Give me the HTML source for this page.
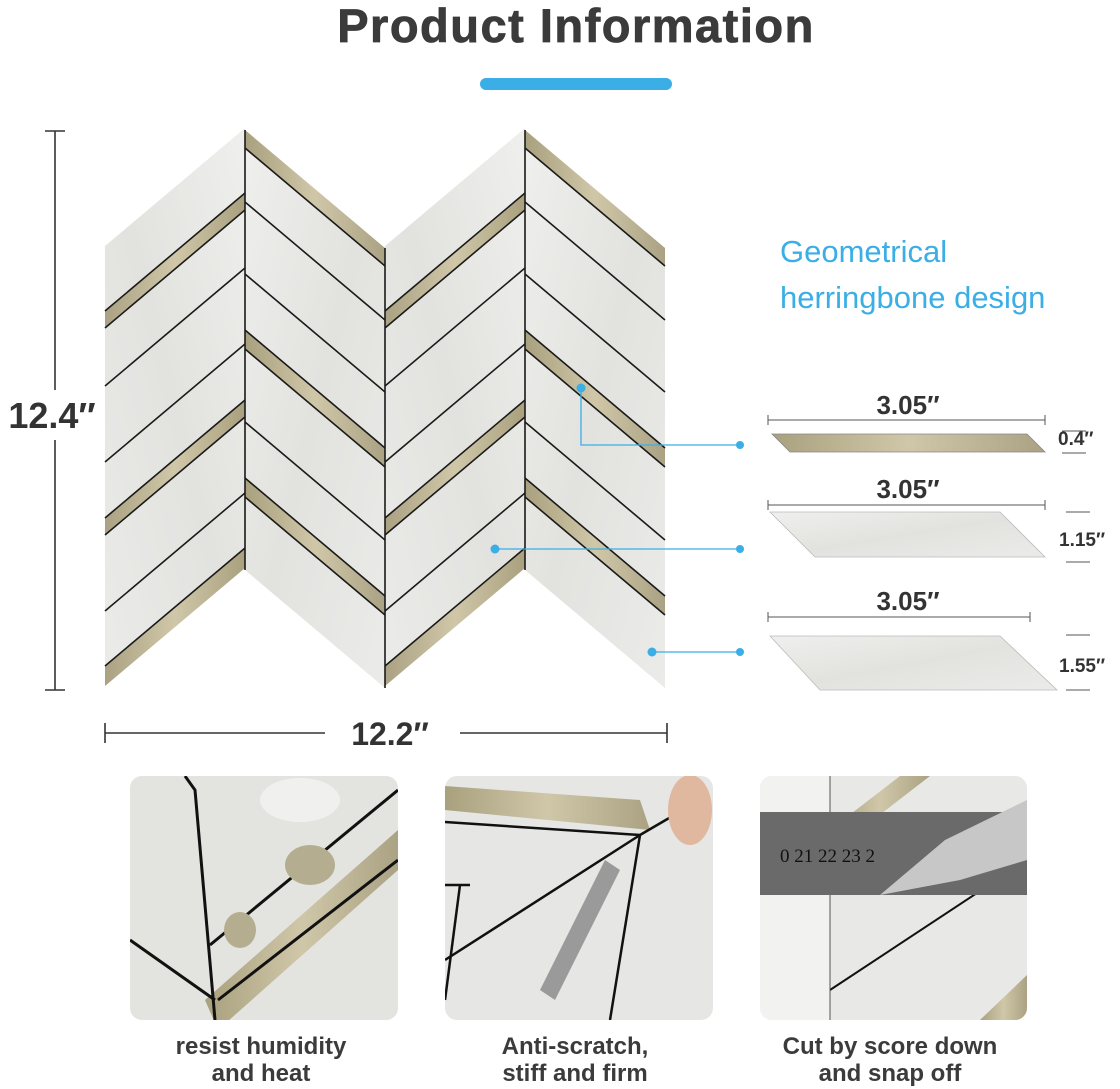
<!DOCTYPE html>
<html><head><meta charset="utf-8"><style>
html,body{margin:0;padding:0;background:#fff;}
body{width:1120px;height:1089px;overflow:hidden;position:relative;font-family:"Liberation Sans",sans-serif;}
</style></head><body>
<svg width="1120" height="1089" viewBox="0 0 1120 1089" xmlns="http://www.w3.org/2000/svg" style="position:absolute;left:0;top:0">
<defs>
<linearGradient id="st" x1="0" y1="0" x2="1" y2="1"><stop offset="0" stop-color="#efefed"/><stop offset="0.5" stop-color="#e2e2df"/><stop offset="1" stop-color="#ebebe9"/></linearGradient>
<linearGradient id="gd" x1="0" y1="0" x2="1" y2="0"><stop offset="0" stop-color="#a9a07e"/><stop offset="0.5" stop-color="#cfc7a8"/><stop offset="1" stop-color="#aaa283"/></linearGradient>
<g id="colA">
<polygon points="0,0 140,118 140,558 0,440" fill="url(#st)"/>
<polygon points="0,0 140,118 140,136 0,18" fill="url(#gd)"/>
<line x1="0" y1="18" x2="140" y2="136" stroke="#1a1a1a" stroke-width="1.6"/>
<line x1="0" y1="72" x2="140" y2="190" stroke="#1a1a1a" stroke-width="1.6"/>
<line x1="0" y1="144" x2="140" y2="262" stroke="#1a1a1a" stroke-width="1.6"/>
<polygon points="0,200 140,318 140,337 0,219" fill="url(#gd)"/>
<line x1="0" y1="200" x2="140" y2="318" stroke="#1a1a1a" stroke-width="1.6"/>
<line x1="0" y1="219" x2="140" y2="337" stroke="#1a1a1a" stroke-width="1.6"/>
<line x1="0" y1="292" x2="140" y2="410" stroke="#1a1a1a" stroke-width="1.6"/>
<polygon points="0,348 140,466 140,485 0,367" fill="url(#gd)"/>
<line x1="0" y1="348" x2="140" y2="466" stroke="#1a1a1a" stroke-width="1.6"/>
<line x1="0" y1="367" x2="140" y2="485" stroke="#1a1a1a" stroke-width="1.6"/>
</g>
<g id="colB">
<polygon points="0,0 140,118 140,558 0,440" fill="url(#st)"/>
<polygon points="0,65 140,183 140,200 0,82" fill="url(#gd)"/>
<line x1="0" y1="65" x2="140" y2="183" stroke="#1a1a1a" stroke-width="1.6"/>
<line x1="0" y1="82" x2="140" y2="200" stroke="#1a1a1a" stroke-width="1.6"/>
<line x1="0" y1="140" x2="140" y2="258" stroke="#1a1a1a" stroke-width="1.6"/>
<line x1="0" y1="216" x2="140" y2="334" stroke="#1a1a1a" stroke-width="1.6"/>
<polygon points="0,272 140,390 140,407 0,289" fill="url(#gd)"/>
<line x1="0" y1="272" x2="140" y2="390" stroke="#1a1a1a" stroke-width="1.6"/>
<line x1="0" y1="289" x2="140" y2="407" stroke="#1a1a1a" stroke-width="1.6"/>
<line x1="0" y1="365" x2="140" y2="483" stroke="#1a1a1a" stroke-width="1.6"/>
<polygon points="0,420 140,538 140,558 0,440" fill="url(#gd)"/>
<line x1="0" y1="420" x2="140" y2="538" stroke="#1a1a1a" stroke-width="1.6"/>
</g>
</defs>

<text x="576" y="42" text-anchor="middle" font-size="47" font-weight="bold" fill="#3b3b3b" letter-spacing="1.5" stroke="#3b3b3b" stroke-width="0.8">Product  Information</text>
<rect x="480" y="78" width="192" height="12" rx="6" fill="#3aaee5"/>

<use href="#colB" transform="translate(245,128) scale(-1,1)"/>
<use href="#colA" transform="translate(245,130)"/>
<use href="#colB" transform="translate(525,128) scale(-1,1)"/>
<use href="#colA" transform="translate(525,130)"/>
<line x1="245" y1="130" x2="245" y2="570" stroke="#1a1a1a" stroke-width="1.6"/>
<line x1="385" y1="248" x2="385" y2="688" stroke="#1a1a1a" stroke-width="1.6"/>
<line x1="525" y1="130" x2="525" y2="570" stroke="#1a1a1a" stroke-width="1.6"/>

<g stroke="#333" stroke-width="1.6">
<line x1="55" y1="131" x2="55" y2="690"/><line x1="45" y1="131" x2="65" y2="131"/><line x1="45" y1="690" x2="65" y2="690"/>
<line x1="105" y1="733" x2="325" y2="733"/><line x1="460" y1="733" x2="667" y2="733"/><line x1="105" y1="723" x2="105" y2="743"/><line x1="667" y1="723" x2="667" y2="743"/>
</g>
<rect x="0" y="390" width="105" height="50" fill="#fff"/>
<text x="52" y="428" text-anchor="middle" font-size="36" font-weight="bold" fill="#333">12.4″</text>
<text x="390" y="745" text-anchor="middle" font-size="32" font-weight="bold" fill="#333">12.2″</text>

<text x="780" y="262" font-size="31" fill="#3aaee5">Geometrical</text>
<text x="780" y="308" font-size="31" fill="#3aaee5">herringbone design</text>

<g font-weight="bold" fill="#333">
<text x="908" y="414" text-anchor="middle" font-size="26">3.05″</text>
<text x="908" y="498" text-anchor="middle" font-size="26">3.05″</text>
<text x="908" y="610" text-anchor="middle" font-size="26">3.05″</text>
<text x="1058" y="445" font-size="19">0.4″</text>
<text x="1059" y="546" font-size="19">1.15″</text>
<text x="1059" y="672" font-size="19">1.55″</text>
</g>
<g stroke="#555" stroke-width="1">
<line x1="768" y1="420" x2="1045" y2="420"/><line x1="768" y1="415" x2="768" y2="425"/><line x1="1045" y1="415" x2="1045" y2="425"/>
<line x1="768" y1="505" x2="1045" y2="505"/><line x1="768" y1="500" x2="768" y2="510"/><line x1="1045" y1="500" x2="1045" y2="510"/>
<line x1="768" y1="617" x2="1030" y2="617"/><line x1="768" y1="612" x2="768" y2="622"/><line x1="1030" y1="612" x2="1030" y2="622"/>
<line x1="1062" y1="431" x2="1086" y2="431"/><line x1="1062" y1="453" x2="1086" y2="453"/>
<line x1="1066" y1="512" x2="1090" y2="512"/><line x1="1066" y1="562" x2="1090" y2="562"/>
<line x1="1066" y1="635" x2="1090" y2="635"/><line x1="1066" y1="690" x2="1090" y2="690"/>
</g>
<polygon points="772,434 1027,434 1045,452 790,452" fill="url(#gd)" stroke="#888" stroke-width="0.8"/>
<polygon points="770,512 1000,512 1045,557 815,557" fill="url(#st)" stroke="#bbb" stroke-width="0.8"/>
<polygon points="770,636 1000,636 1057,690 820,690" fill="url(#st)" stroke="#bbb" stroke-width="0.8"/>

<g stroke="#3aaee5" stroke-width="1.3" fill="none">
<polyline points="581,388 581,445 740,445"/>
<line x1="495" y1="549" x2="740" y2="549"/>
<line x1="652" y1="652" x2="740" y2="652"/>
</g>
<g fill="#3aaee5">
<circle cx="581" cy="388" r="4.5"/><circle cx="740" cy="445" r="4"/>
<circle cx="495" cy="549" r="4.5"/><circle cx="740" cy="549" r="4"/>
<circle cx="652" cy="652" r="4.5"/><circle cx="740" cy="652" r="4"/>
</g>

<clipPath id="p1"><rect x="130" y="776" width="268" height="244" rx="12"/></clipPath>
<clipPath id="p2"><rect x="445" y="776" width="268" height="244" rx="12"/></clipPath>
<clipPath id="p3"><rect x="760" y="776" width="267" height="244" rx="12"/></clipPath>
<g clip-path="url(#p1)">
<rect x="130" y="776" width="268" height="244" fill="#e3e3e0"/>
<polygon points="205,1000 398,830 398,870 218,1030" fill="url(#gd)"/>
<polyline points="185,776 195,790 215,1020" stroke="#111" stroke-width="3" fill="none"/>
<line x1="130" y1="940" x2="215" y2="1000" stroke="#111" stroke-width="3"/>
<line x1="210" y1="945" x2="398" y2="790" stroke="#111" stroke-width="3"/>
<line x1="218" y1="1000" x2="398" y2="860" stroke="#111" stroke-width="3"/>
<ellipse cx="310" cy="865" rx="25" ry="20" fill="#b5ad90"/>
<ellipse cx="240" cy="930" rx="16" ry="18" fill="#b5ad90"/>
<ellipse cx="300" cy="800" rx="40" ry="22" fill="#f0f0ee"/>
</g>
<g clip-path="url(#p2)">
<rect x="445" y="776" width="268" height="244" fill="#e6e6e4"/>
<polygon points="445,786 640,800 650,830 445,810" fill="url(#gd)"/>
<line x1="445" y1="822" x2="640" y2="835" stroke="#111" stroke-width="2.5"/>
<line x1="445" y1="960" x2="640" y2="835" stroke="#111" stroke-width="2.5"/>
<line x1="640" y1="835" x2="700" y2="800" stroke="#111" stroke-width="2.5"/>
<line x1="445" y1="885" x2="470" y2="885" stroke="#111" stroke-width="2.5"/>
<line x1="445" y1="1000" x2="460" y2="885" stroke="#111" stroke-width="2.5"/>
<line x1="610" y1="1020" x2="640" y2="835" stroke="#111" stroke-width="2.5"/>
<polygon points="540,990 555,1000 620,870 605,860" fill="#9a9a9a"/>
<ellipse cx="690" cy="810" rx="22" ry="35" fill="#e0b8a0"/>
</g>
<g clip-path="url(#p3)">
<rect x="760" y="776" width="267" height="244" fill="#e8e8e6"/>
<rect x="760" y="776" width="70" height="244" fill="#f2f2f0"/>
<polygon points="900,776 930,776 860,830 830,830" fill="url(#gd)"/>
<polygon points="1027,975 1027,1020 980,1020" fill="url(#gd)"/>
<line x1="830" y1="990" x2="1027" y2="860" stroke="#111" stroke-width="2"/>
<line x1="830" y1="776" x2="830" y2="1020" stroke="#555" stroke-width="1"/>
<rect x="760" y="812" width="267" height="83" fill="#6a6a6a"/>
<text x="780" y="862" font-family="Liberation Serif,serif" font-size="19" fill="#111">0  21  22  23  2</text>
<polygon points="945,840 1027,800 1027,860 960,880 880,895" fill="#c7c7c7"/>
</g>

<g font-weight="bold" font-size="24" fill="#3b3b3b" text-anchor="middle">
<text x="261" y="1054">resist humidity</text><text x="261" y="1081">and heat</text>
<text x="575" y="1054">Anti-scratch,</text><text x="575" y="1081">stiff and firm</text>
<text x="890" y="1054">Cut by score down</text><text x="890" y="1081">and snap off</text>
</g>
</svg>
</body></html>
